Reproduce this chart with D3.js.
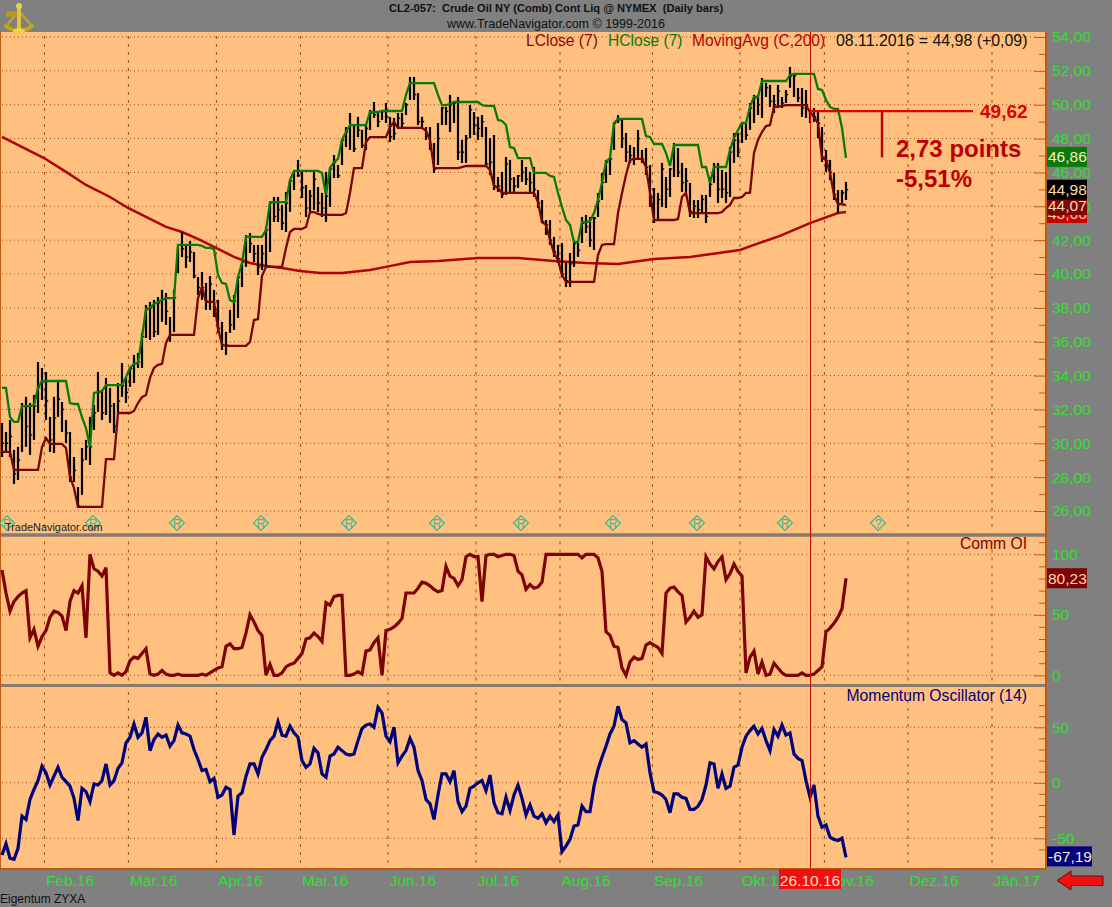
<!DOCTYPE html>
<html><head><meta charset="utf-8">
<script src="https://cdn.jsdelivr.net/npm/d3@7"></script>
<style>
html,body{margin:0;padding:0;background:#808080;overflow:hidden}
svg{display:block}
text{font-family:"Liberation Sans",Arial,sans-serif}
</style></head><body>
<svg id="c" width="1112" height="907"></svg>
<script>
// ---- data (one entry per daily bar, 0..211) ----
const highs=[31.2,30.67,31.38,29.61,29.79,32.38,32.74,32.38,32.85,34.8,
34.45,34.21,31.56,32.74,33.62,32.44,31.38,30.67,29.19,27.42,
29.72,30.2,31.56,32.26,34.21,33.15,33.86,33.27,32.38,33.56,
34.74,33.86,34.51,35.22,35.33,36.52,38.17,38.35,38.47,38.64,
39.06,38.88,37.46,39.06,41.6,42.48,41.72,41.95,41.3,39.82,
40.12,39.47,39.88,39.06,38.47,37.17,36.58,37.88,38.76,39.82,
40.65,42.3,42.42,41.72,41.72,41.72,42.78,44.2,44.55,44.55,
44.08,44.85,45.56,46.03,46.74,46.03,45.26,44.96,46.03,45.14,
44.79,46.03,46.32,47.03,46.44,47.92,48.68,49.51,48.8,49.28,
48.51,48.8,49.69,50.16,49.57,49.69,50.1,49.28,49.22,49.51,
49.51,50.1,51.64,51.64,50.69,49.28,48.68,48.68,47.74,48.92,
49.87,49.87,50.58,50.1,50.46,47.92,48.21,49.98,49.57,49.28,
49.39,48.68,48.03,48.21,45.73,46.03,46.91,46.74,45.73,45.85,
46.74,46.32,46.03,46.32,44.96,44.37,43.19,43.19,42.19,41.72,
41.83,40.65,41.24,41.89,41.89,43.37,43.49,43.37,43.37,44.79,
45.97,46.74,46.86,48.98,49.39,49.1,48.33,47.62,47.5,48.51,
47.33,47.44,46.44,45.08,44.79,46.56,45.73,46.26,47.74,47.44,
46.56,46.26,45.38,44.37,44.37,44.67,44.67,45.73,46.56,46.56,
46.15,46.03,47.5,48.33,48.33,48.98,48.98,50.1,50.58,50.58,
51.58,51.29,51.17,50.58,51.17,50.46,50.87,52.23,51.76,50.99,
50.99,50.87,49.69,49.81,49.57,48.68,47.33,46.74,45.97,44.96,44.96,45.44];
const lows=[29.19,29.43,29.19,27.6,27.83,29.49,29.79,29.31,30.2,31.79,
32.56,31.38,29.49,29.43,31.56,30.67,30.02,27.71,27.71,26.18,
26.95,29.01,28.72,30.79,31.85,31.38,31.67,31.2,30.61,31.79,
32.74,32.38,33.33,33.56,34.45,34.45,36.22,36.1,36.28,36.4,
37.17,36.99,35.99,36.58,40.06,41.0,40.36,40.71,39.75,38.76,
38.47,37.88,37.88,37.46,36.52,35.51,35.22,36.52,36.7,37.4,
39.23,40.42,41.24,40.71,39.94,40.24,40.42,41.3,43.07,43.07,
42.6,42.48,43.67,44.96,45.74,44.49,43.37,43.67,43.79,43.67,
43.37,43.07,43.96,45.67,45.67,46.44,47.5,47.33,47.21,48.09,
47.44,47.33,48.51,49.22,48.68,49.1,48.92,47.8,47.92,48.68,
48.63,49.39,50.28,50.28,48.8,48.68,47.92,47.33,45.97,46.44,
48.8,48.8,48.39,48.92,46.74,46.56,46.56,48.03,48.21,47.92,
48.09,46.32,45.85,44.96,44.85,44.49,44.67,44.79,44.85,45.08,
45.44,45.26,44.85,44.55,43.9,43.01,42.31,41.72,41.01,40.65,
39.82,39.23,39.23,40.42,41.01,41.83,42.42,41.6,41.42,43.37,
44.37,45.38,45.85,47.33,48.92,47.44,46.62,46.56,46.44,46.74,
46.56,45.85,43.96,43.01,43.13,43.96,43.9,44.55,45.73,45.73,
44.85,44.79,43.37,43.31,43.31,43.6,43.01,44.55,45.38,44.2,
44.49,44.2,44.55,46.56,46.91,47.74,47.92,48.51,48.92,49.39,
49.22,50.46,49.87,49.51,49.87,49.81,50.1,51.0,50.46,50.16,
49.28,49.22,48.92,48.98,48.03,46.62,46.03,45.55,44.37,43.6,44.2,44.37];
const closes=[30.0,30.0,30.4,28.2,29.0,32.2,31.0,30.5,32.2,33.3,
33.7,32.5,30.2,31.5,32.6,32.0,30.6,28.0,28.4,26.3,
29.0,29.8,29.8,31.8,33.0,31.8,33.4,32.2,31.0,32.5,
33.4,33.0,34.4,34.7,34.8,36.3,37.9,38.0,36.6,38.3,
38.5,37.8,36.4,38.6,41.7,41.5,41.0,41.3,39.9,39.2,
39.2,38.4,39.4,38.0,36.8,35.8,35.8,37.0,38.4,39.8,
40.7,42.2,41.8,41.2,40.4,41.2,42.6,44.2,43.4,43.8,
43.0,44.2,45.5,46.1,45.8,45.1,43.9,44.6,45.6,44.2,
43.9,44.6,46.2,46.6,45.8,47.9,48.4,48.8,47.4,48.5,
47.6,48.6,49.5,49.4,49.0,49.6,49.3,48.1,48.3,49.2,
48.9,50.0,51.3,50.6,49.0,49.0,48.3,47.6,46.2,48.0,
49.8,49.6,50.0,50.1,47.2,47.2,48.0,49.7,48.8,48.6,
49.0,46.5,46.6,45.2,45.2,44.7,46.5,45.6,45.2,45.8,
46.0,45.6,45.4,45.0,44.2,43.1,42.9,42.0,41.3,40.9,
40.0,39.6,40.6,41.8,41.4,43.0,42.8,42.0,43.3,44.3,
45.4,46.6,46.8,48.9,49.1,48.0,47.2,47.0,46.8,48.0,
46.8,46.3,44.6,43.2,44.4,46.2,45.0,46.2,47.6,46.0,
45.4,45.5,43.7,44.0,43.8,44.4,43.4,45.3,46.3,45.0,
45.0,44.8,47.2,47.9,47.2,48.9,48.2,49.8,50.4,50.0,
51.4,51.0,50.2,50.0,50.8,50.1,50.6,51.7,51.7,50.4,
49.8,50.0,49.6,49.3,48.9,46.9,46.7,46.0,44.7,44.1,44.8,44.98];
const hClose=[33.27,33.27,31.55,31.26,31.26,32.2,32.2,32.2,32.26,33.27,
33.68,33.68,33.68,33.68,33.68,33.68,33.68,32.38,32.32,32.32,
31.55,30.9,29.78,32.97,33.03,33.09,33.44,33.44,33.44,33.44,
33.44,33.92,34.45,34.69,34.75,36.28,37.93,37.99,38.23,38.35,
38.46,38.58,38.58,38.58,41.72,41.72,41.72,41.72,41.72,41.72,
41.66,41.54,41.54,41.48,39.94,39.47,39.41,38.46,38.35,39.82,
40.65,42.19,42.19,42.19,42.19,42.19,42.6,44.25,44.25,44.25,
44.25,44.25,45.55,46.09,46.09,46.09,46.09,46.09,46.09,46.09,
45.97,44.67,46.26,46.62,46.8,47.92,48.39,48.8,48.8,48.8,
48.8,48.8,49.57,49.57,49.57,49.63,49.63,49.63,49.63,49.63,
49.63,50.58,51.28,51.28,51.28,51.28,51.28,51.28,51.28,50.58,
49.98,49.98,50.04,50.16,50.16,50.16,50.16,50.16,50.16,50.16,
49.98,49.93,49.93,49.93,49.1,49.04,48.8,47.5,47.44,46.85,
46.85,46.85,46.85,45.97,45.97,45.97,45.97,45.79,45.73,44.79,
43.96,43.19,42.9,41.89,41.89,43.07,43.07,43.13,43.6,44.37,
45.38,46.62,46.85,48.92,49.16,49.16,49.16,49.16,49.16,49.16,
49.16,48.15,48.09,47.68,47.68,47.68,47.15,46.38,47.62,47.62,
47.62,47.62,47.62,47.62,47.62,46.32,46.32,45.38,46.32,46.32,
46.32,46.32,47.33,48.04,48.51,48.92,48.92,49.87,50.46,50.46,
51.4,51.4,51.4,51.4,51.4,51.4,51.4,51.76,51.82,51.82,
51.82,51.82,51.82,51.82,50.93,50.87,50.28,49.87,49.75,49.75,48.63,46.86];
const lClose=[29.49,29.49,29.49,28.43,28.43,28.43,28.43,28.43,28.43,28.43,
29.78,30.31,29.96,29.96,29.96,29.96,29.72,28.01,27.36,26.24,
26.24,26.24,26.24,26.24,26.24,26.24,29.07,29.07,29.07,31.79,
31.79,31.79,31.79,31.91,32.38,32.73,32.85,33.86,34.45,34.63,
34.69,35.93,36.4,36.4,36.4,36.4,36.4,36.4,36.4,38.58,
39.23,38.35,38.35,38.35,36.81,35.81,35.75,35.75,35.75,35.75,
35.75,35.75,35.98,37.28,37.34,39.88,40.42,40.42,40.42,40.42,
40.42,41.54,42.48,42.66,42.66,42.66,42.78,43.66,43.66,43.55,
43.49,43.49,43.49,43.49,43.49,43.49,43.6,44.79,46.26,46.26,
46.26,47.8,48.09,48.09,48.09,48.09,48.09,48.69,48.98,48.63,
48.63,48.63,48.63,48.63,48.63,48.63,48.45,47.92,46.26,46.26,
46.26,46.26,46.26,46.26,46.26,46.32,46.38,46.38,46.38,46.38,
46.38,46.38,46.15,45.2,45.08,44.79,44.79,44.79,44.79,44.79,
44.79,44.79,44.79,44.79,44.25,43.07,42.9,42.01,41.24,40.83,
39.94,39.53,39.53,39.53,39.53,39.53,39.53,39.53,39.53,41.12,
41.72,41.77,41.77,41.77,43.6,44.79,45.85,46.74,46.8,46.8,
46.8,46.32,44.79,43.19,43.19,43.19,43.19,43.19,43.19,43.25,
44.55,44.79,43.6,43.6,43.6,43.6,43.6,43.6,43.6,43.6,
43.66,43.9,44.08,44.49,44.49,44.55,44.79,44.79,47.15,47.92,
48.39,48.74,48.8,49.87,49.87,49.93,49.98,49.98,49.98,49.98,
49.98,49.98,49.57,49.28,48.92,46.85,46.74,45.97,44.67,44.13,44.13,44.07];
// moving average: read at these bars
const maBars=[0,10.5,16,21,27,31.5,36,41,45,49.5,53.5,58,62,66,70,74.5,79.5,85,92,96,102,109,119,129,138,146,154,163,172,184.5,188,194.5,202,209,211];
const maVals=[48.1,46.85,46.03,45.26,44.55,43.9,43.37,42.78,42.48,42.01,41.54,41.01,40.65,40.47,40.36,40.18,40.06,40.06,40.24,40.42,40.71,40.77,40.95,40.95,40.77,40.65,40.59,40.89,41.0,41.42,41.72,42.25,43.01,43.6,43.66];
const commOI=[87,68,53,61,65,68,70,31,38,24,
32,37,48,53,52,49,37,61,70,68,
74,31,100,88,86,82,89,2,0,2,
0,3,12,15,14,18,22,1,0,1,
4,1,0,0,1,0,0,0,0,0,
1,0,2,4,6,7,24,26,22,22,
23,35,50,44,37,33,0,9,0,0,
2,7,9,10,14,18,30,31,35,32,
28,60,58,65,66,66,0,0,1,3,
1,20,21,27,31,0,37,38,40,43,
47,68,68,68,72,77,76,74,71,69,
70,90,82,80,74,79,98,100,98,98,
61,99,100,100,98,99,100,100,99,86,
83,71,75,72,73,77,100,100,100,100,
100,100,100,100,100,97,100,100,100,97,
86,36,33,24,23,6,0,11,15,13,
14,25,27,25,23,18,68,72,73,69,
66,44,48,53,48,50,98,92,88,94,
98,79,84,92,86,82,2,15,20,1,
11,0,1,10,6,2,0,0,0,0,
2,0,0,1,4,7,36,39,43,48,55,80.23];
const momentum=[-65,-55,-68,-69,-59,-30,-33,-15,-6,2,
15,9,-2,6,14,5,1,-3,-14,-34,
-5,-8,-17,-1,-2,2,17,-2,2,13,
18,36,41,53,41,45,59,29,39,44,
41,43,33,38,52,45,44,42,30,21,
11,12,1,4,-13,-11,-4,-6,-47,-12,
-9,6,17,17,8,23,30,38,42,55,
43,42,51,45,41,20,14,17,31,27,
8,5,24,26,32,29,26,25,26,38,
49,52,53,50,68,63,42,37,50,18,
24,29,40,32,11,2,-15,-19,-33,-11,
8,8,1,11,-17,-26,-21,-5,-3,0,
2,-7,7,-18,-27,-28,-13,-25,-11,-2,
-14,-29,-20,-30,-32,-28,-36,-30,-35,-29,
-62,-57,-51,-39,-38,-21,-26,-26,-3,12,
23,33,44,51,69,57,54,36,38,35,
32,35,9,-8,-9,-11,-15,-27,-10,-10,
-13,-14,-24,-24,-21,-15,-2,18,17,-5,
8,-5,-3,14,16,32,42,47,51,44,
49,38,29,48,42,52,43,45,26,22,
20,2,-13,-2,-30,-40,-38,-49,-51,-52,-50,-67.19];
const monthBars=[10.6,31.6,53.6,74.6,96.5,118.5,139.5,162.6,184.5,205.6,226.5,247.5];
const monthLabels=["Feb.16","Mär.16","Apr.16","Mai.16","Jun.16","Jul.16","Aug.16","Sep.16","Okt.16","Nov.16","Dez.16","Jän.17"];
const eventBars=[1.25,22.75,43.75,64.75,86.75,108.75,129.75,152.75,173.75,195.75];
const pendingEventBar=219;
const priceTicks=[26,28,30,32,34,36,38,40,42,44,46,48,50,52,54];
const oiTicks=[0,50,100];
const momTicks=[-50,0,50];
const cursorBar=202;
const levelValue=49.62, levelEndBar=242.75, dropBar=220, dropPoints=2.73;

const css={bg:"#FFC080",page:"#808080",sep:"#857B6E",edge:"#BF5A12",grid:"#9A4A0C",axis:"#2FE02F",
  green:"#087A08",lc:"#7A0404",ma:"#B00303",oi:"#7C0404",mom:"#00007A"};
const W=1046;
const x=d3.scaleLinear().domain([0,211]).range([2,846]);
const yP=d3.scaleLinear().domain([26,54]).range([511,37]);
const yO=d3.scaleLinear().domain([0,100]).range([675.3,554.3]);
const yM=d3.scaleLinear().domain([-50,50]).range([838.3,727.3]);
const svg=d3.select("#c");
const fmt2=v=>d3.format(".2f")(v).replace(".",",").replace("−","-");

svg.append("rect").attr("width",1112).attr("height",907).attr("fill",css.page);
const panels=[[32,533.5],[536.5,684],[687,868]];
svg.selectAll("rect.p").data(panels).join("rect").attr("class","p")
 .attr("x",0).attr("y",d=>d[0]).attr("width",W).attr("height",d=>d[1]-d[0]).attr("fill",css.bg);
// separators
[[533.5,3],[684,3]].forEach(d=>svg.append("rect").attr("x",0).attr("y",d[0]).attr("width",W).attr("height",d[1]).attr("fill",css.sep));

// vertical month grid
panels.forEach((p,k)=>{
 svg.append("g").selectAll("line").data(monthBars).join("line")
  .attr("x1",d=>x(d)).attr("x2",d=>x(d)).attr("y1",p[0]+(k==0?4:5)).attr("y2",p[1]-3)
  .attr("stroke",css.grid).attr("stroke-dasharray","3,5").attr("stroke-width",1);
});
// horizontal grid
function hgrid(ticks,y){
 svg.append("g").selectAll("line").data(ticks).join("line")
  .attr("x1",2).attr("x2",1036).attr("y1",d=>y(d)).attr("y2",d=>y(d))
  .attr("stroke",css.grid).attr("stroke-dasharray","1,3").attr("stroke-width",1);
}
hgrid(priceTicks,yP);hgrid(oiTicks,yO);hgrid(momTicks,yM);

// right axes
function rightAxis(scale,major,minor,format){
 const g=svg.append("g").attr("transform","translate(1034,0)")
  .call(d3.axisRight(scale).tickValues(major).tickSize(11).tickPadding(7).tickFormat(format));
 g.select(".domain").remove();
 g.selectAll("line").attr("stroke",css.edge).attr("stroke-width",1);
 g.selectAll("text").attr("fill",css.axis).style("font-size","15.5px").style("font-family",'"Liberation Sans",Arial,sans-serif');
 const m=svg.append("g").attr("transform","translate(1039,0)")
  .call(d3.axisRight(scale).tickValues(minor).tickSize(6).tickFormat(""));
 m.select(".domain").remove();
 m.selectAll("line").attr("stroke",css.edge).attr("stroke-width",1);
}
rightAxis(yP,priceTicks,d3.range(27,54,2),fmt2);
rightAxis(yO,oiTicks,[10,20,30,40,60,70,80,90,110],d=>d);
rightAxis(yM,momTicks,[-60,-40,-30,-20,-10,10,20,30,40,60,70],d=>d);

// borders
svg.append("rect").attr("x",1045).attr("y",32).attr("width",2).attr("height",837).attr("fill",css.edge);
svg.append("rect").attr("x",0).attr("y",32).attr("width",1).attr("height",837).attr("fill",css.edge);
svg.append("rect").attr("x",0).attr("y",868).attr("width",1047).attr("height",2).attr("fill",css.edge);

// event diamonds
const ev=svg.append("g");
eventBars.concat([pendingEventBar]).forEach((b,i)=>{
 const px=x(b),py=523;
 ev.append("path").attr("d",`M${px-7.5},${py}L${px},${py-7.5}L${px+7.5},${py}L${px},${py+7.5}Z`)
  .attr("fill","none").attr("stroke","#3CB88F").attr("stroke-width",1.2);
 ev.append("text").attr("x",px).attr("y",py+4.5).attr("text-anchor","middle")
  .attr("fill","#3CB88F").style("font-size","12px").text(b===pendingEventBar?"?":"R");
});
svg.append("text").attr("x",5).attr("y",531).attr("fill","#222").style("font-size","10.9px").text("TradeNavigator.com");

// moving average + channel lines
const lineP=d3.line().x((d,i)=>x(i)).y(d=>yP(d));
const lineMA=d3.line().x((d,i)=>x(maBars[i])).y(d=>yP(d));
svg.append("path").attr("d",lineMA(maVals)).attr("fill","none").attr("stroke",css.ma).attr("stroke-width",2.5);

// price bars
const bars=svg.append("g").attr("stroke","#000");
bars.selectAll("line.b").data(highs).join("line").attr("class","b")
 .attr("x1",(d,i)=>x(i)).attr("x2",(d,i)=>x(i))
 .attr("y1",d=>yP(d)).attr("y2",(d,i)=>yP(lows[i])).attr("stroke-width",2.2);
bars.selectAll("line.t").data(closes).join("line").attr("class","t")
 .attr("x1",(d,i)=>x(i)).attr("x2",(d,i)=>x(i)+2.2)
 .attr("y1",d=>yP(d)).attr("y2",d=>yP(d)).attr("stroke-width",1.4);

svg.append("path").attr("d",lineP(lClose)).attr("fill","none").attr("stroke",css.lc).attr("stroke-width",2.3);
svg.append("path").attr("d",lineP(hClose)).attr("fill","none").attr("stroke",css.green).attr("stroke-width",2.3);

// lower panels
svg.append("path").attr("d",d3.line().x((d,i)=>x(i)).y(d=>yO(d))(commOI)).attr("fill","none").attr("stroke",css.oi).attr("stroke-width",3.2);
svg.append("path").attr("d",d3.line().x((d,i)=>x(i)).y(d=>yM(d))(momentum)).attr("fill","none").attr("stroke",css.mom).attr("stroke-width",3.2);

// cursor
svg.append("line").attr("x1",x(cursorBar)+.5).attr("x2",x(cursorBar)+.5).attr("y1",32).attr("y2",869).attr("stroke","#C81000").attr("stroke-width",1);

// annotation
svg.append("line").attr("x1",x(cursorBar)).attr("x2",x(levelEndBar)).attr("y1",yP(levelValue)).attr("y2",yP(levelValue)).attr("stroke","#E00000").attr("stroke-width",2.4);
svg.append("line").attr("x1",x(dropBar)).attr("x2",x(dropBar)).attr("y1",yP(levelValue)).attr("y2",yP(levelValue-dropPoints)).attr("stroke","#B80000").attr("stroke-width",2.4);
svg.append("text").attr("x",980).attr("y",117.5).attr("fill","#E00000").style("font-size","19px").style("font-weight","bold").text(fmt2(levelValue));
svg.append("text").attr("x",896).attr("y",157).attr("fill","#B80000").style("font-size","24px").style("font-weight","bold").text(fmt2(dropPoints)+" points");
svg.append("text").attr("x",896).attr("y",187).attr("fill","#B80000").style("font-size","24px").style("font-weight","bold").text("-5,51%");

// legend
const leg=[["LClose (7)",526,"#8A0A0A",15.6],["HClose (7)",608,"#087A08",15.6],["MovingAvg (C,200)",692,"#B00303",15.6],["08.11.2016 = 44,98 (+0,09)",836,"#111",15.9]];
leg.forEach(d=>svg.append("text").attr("x",d[1]).attr("y",46).attr("fill",d[2]).style("font-size",d[3]+"px").text(d[0]));
svg.append("text").attr("x",1027).attr("y",549).attr("text-anchor","end").attr("fill",css.oi).style("font-size","15.7px").text("Comm OI");
svg.append("text").attr("x",1027).attr("y",701).attr("text-anchor","end").attr("fill",css.mom).style("font-size","15.7px").text("Momentum Oscillator (14)");

// value tags
function tag(cy,val,bg,fg,w){
 svg.append("rect").attr("x",1047).attr("y",cy-10).attr("width",w||40).attr("height",20).attr("fill",bg);
 svg.append("text").attr("x",1048).attr("y",cy+5.5).attr("fill",fg).style("font-size","15.5px").text(fmt2(val));
}
tag(yP(maVals[maVals.length-1])+1,maVals[maVals.length-1],"#C80000","#FFD0A0");
tag(yP(lClose[211]),lClose[211],"#7D0606","#FFD8B0");
tag(yP(hClose[211])-1,hClose[211],"#087A08","#FFE8C8");
tag(yP(closes[211]),closes[211],"#000","#FFD8A8");
tag(yO(commOI[211]),commOI[211],"#7C0404","#FFD8B0");
tag(yM(momentum[211])-1,momentum[211],"#00007A","#FFE8D0",45);

// x axis (real axis on bar scale)
const xa=svg.append("g").attr("transform","translate(0,868)")
 .call(d3.axisBottom(x).tickValues(monthBars).tickSize(0).tickPadding(0).tickFormat((d,i)=>monthLabels[i]));
xa.select(".domain").remove();
xa.selectAll("text").attr("fill",css.axis).attr("text-anchor","start").attr("dx",1).attr("dy",0).attr("y",17.5)
 .style("font-size","15.5px").style("font-family",'"Liberation Sans",Arial,sans-serif');

svg.append("rect").attr("x",779).attr("y",869).attr("width",62).attr("height",20).attr("fill","#F01010");
svg.append("text").attr("x",x(cursorBar)).attr("y",885.5).attr("text-anchor","middle").attr("fill","#FFE0C0").style("font-size","15.5px").text("26.10.16");

// arrow
svg.append("path").attr("d","M1057,880.5L1071,871L1071,876L1103,876L1103,885.5L1071,885.5L1071,890Z").attr("fill","#F01010").attr("stroke","#5a1010").attr("stroke-width",1);

svg.append("text").attr("x",0).attr("y",903).attr("fill","#111").style("font-size","12px").text("Eigentum ZYXA");

// header
svg.append("text").attr("x",556).attr("y",12).attr("text-anchor","middle").attr("fill","#111").style("font-size","11.1px").style("font-weight","bold").attr("xml:space","preserve").text("CL2-057:  Crude Oil NY (Comb) Cont Liq @ NYMEX  (Daily bars)");
svg.append("text").attr("x",556).attr("y",28).attr("text-anchor","middle").attr("fill","#111").style("font-size","12.5px").text("www.TradeNavigator.com © 1999-2016");

// sextant logo
const lg=svg.append("g").attr("fill","none").attr("stroke-linecap","round");
lg.append("path").attr("d","M6,26Q19,36 32,26").attr("stroke","#C9A41C").attr("stroke-width",4);
lg.append("path").attr("d","M19,11L7,25M19,11L31,25").attr("stroke","#BFA030").attr("stroke-width",2.5);
lg.append("path").attr("d","M19,6L19,31").attr("stroke","#DFC440").attr("stroke-width",4);
lg.append("path").attr("d","M6,14L17,14").attr("stroke","#B89A22").attr("stroke-width",5).attr("stroke-linecap","butt");
lg.append("circle").attr("cx",19).attr("cy",6).attr("r",3).attr("fill","#E8D050");
lg.append("ellipse").attr("cx",19).attr("cy",31).attr("rx",6).attr("ry",3).attr("fill","#EAD24A");
</script>
</body></html>
